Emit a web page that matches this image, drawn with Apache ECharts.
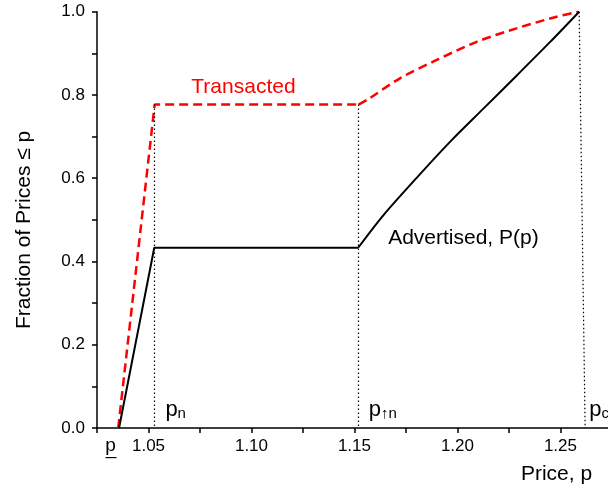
<!DOCTYPE html>
<html><head><meta charset="utf-8">
<script src="https://cdn.jsdelivr.net/npm/echarts@6/dist/echarts.min.js"></script>
<style>html,body{margin:0;padding:0;background:#fff}#c{width:608px;height:494px}</style>
</head><body><div id="c"></div>
<script>
// Advertised price distribution P(p) (black solid)
const advertisedPrice    = [1.0357, 1.0528, 1.1518, 1.1640, 1.1802, 1.1964, 1.2126, 1.2287, 1.2449, 1.2591];
const advertisedFraction = [0.000,  0.433,  0.433,  0.511,  0.601,  0.6874, 0.7671, 0.8463, 0.9268, 1.000];
// Transacted price distribution (red dashed)
const transactedPrice    = [1.0353, 1.0530, 1.1520, 1.1567, 1.1721, 1.1899, 1.2093, 1.2287, 1.2482, 1.2591];
const transactedFraction = [0.000,  0.777,  0.777,  0.790,  0.840,  0.884,  0.9275, 0.960,  0.988,  1.000];
// dotted reference lines (p_n, p_up_n, p_c)
const refTopPrice    = [1.0529, 1.1517, 1.2591];
const refTopFraction = [0.777,  0.777,  1.000];
const refBottomPrice = [1.0529, 1.1517, 1.2620];
// tick labels
const xTickValues = [1.05, 1.10, 1.15, 1.20, 1.25];
const xTickLabels = ['1.05', '1.10', '1.15', '1.20', '1.25'];
const yTickValues = [0, 0.2, 0.4, 0.6, 0.8, 1.0];
const yTickLabels = ['0.0', '0.2', '0.4', '0.6', '0.8', '1.0'];
// annotations
const noteTexts    = ['{r|Transacted}', '{b|Advertised, P(p)}', '{p|p}{s|n}', '{p|p}{s|\u2191n}', '{p|p}{s|c}', '{u|p\u0332}'];
const notePrice    = [1.0961, 1.2029, 1.0582, 1.1570, 1.2640, 1.0316];
const noteFraction = [0.819,  0.456,  0.050,  0.050,  0.050,  -0.043];
const notePosition = ['inside', 'inside', 'right', 'right', 'right', 'inside'];

const FONT = '"Liberation Sans", Arial, "DejaVu Sans", sans-serif';
const zip = (a, b) => a.map((v, i) => [v, b[i]]);
const labelFor = (vals, labs) => v => {
  const i = vals.findIndex(t => Math.abs(t - v) < 1e-6);
  return i >= 0 ? labs[i] : '';
};
const CORNER = 2; // index where the flat part ends and the curve begins

const chart = echarts.init(document.getElementById('c'), null, {renderer: 'canvas'});
chart.setOption({
  animation: false,
  backgroundColor: '#ffffff',
  textStyle: {fontFamily: FONT},
  grid: {left: 97, right: 0, top: 11.7, bottom: 66, containLabel: false},
  xAxis: {
    type: 'value', min: 1.025, max: 1.2731, interval: 0.025,
    name: 'Price, p', nameLocation: 'middle', nameGap: 36,
    nameTextStyle: {fontSize: 21, color: '#000', fontFamily: FONT, padding: [0, 0, 0, 408]},
    axisLine: {lineStyle: {color: '#000', width: 1.5}},
    axisTick: {length: 5, lineStyle: {color: '#000', width: 1.5}},
    axisLabel: {formatter: labelFor(xTickValues, xTickLabels), fontSize: 17, color: '#000', margin: 10, fontFamily: FONT, showMaxLabel: false},
    splitLine: {show: false}
  },
  yAxis: {
    type: 'value', min: 0, max: 1, interval: 0.1,
    name: 'Fraction of Prices \u2264 p', nameLocation: 'middle', nameGap: 62,
    nameTextStyle: {fontSize: 21, color: '#000', fontFamily: FONT, padding: [0, 20, 0, 0]},
    axisLine: {lineStyle: {color: '#000', width: 1.5}},
    axisTick: {length: 5, lineStyle: {color: '#000', width: 1.5}},
    axisLabel: {formatter: labelFor(yTickValues, yTickLabels), fontSize: 17, color: '#000', margin: 12, fontFamily: FONT},
    splitLine: {show: false}
  },
  series: [
    {
      type: 'line', name: 'Advertised', data: zip(advertisedPrice, advertisedFraction).slice(0, CORNER + 1),
      symbol: 'none', lineStyle: {color: '#000', width: 2}, z: 3,
      markLine: {
        silent: true, symbol: 'none', label: {show: false},
        lineStyle: {color: '#000', width: 1.2, type: [1.5, 2.5]},
        data: refTopPrice.map((p, i) => [{coord: [p, refTopFraction[i]]}, {coord: [refBottomPrice[i], 0]}])
      }
    },
    {
      type: 'line', name: 'Advertised curve', data: zip(advertisedPrice, advertisedFraction).slice(CORNER),
      symbol: 'none', smooth: 0.3, lineStyle: {color: '#000', width: 2}, z: 3
    },
    {
      type: 'line', name: 'Transacted', data: zip(transactedPrice, transactedFraction).slice(0, CORNER + 1),
      symbol: 'none', lineStyle: {color: '#ff0000', width: 2.5, type: [9, 5]}, z: 2
    },
    {
      type: 'line', name: 'Transacted curve', data: zip(transactedPrice, transactedFraction).slice(CORNER),
      symbol: 'none', smooth: 0.3, lineStyle: {color: '#ff0000', width: 2.5, type: [9, 5]}, z: 2
    },
    {
      type: 'scatter', symbolSize: 0, silent: true, z: 5, clip: false,
      itemStyle: {opacity: 1},
      data: noteTexts.map((t, i) => ({
        value: [notePrice[i], noteFraction[i]],
        label: {show: true, formatter: t, position: notePosition[i], distance: 0}
      })),
      label: {
        fontFamily: FONT,
        rich: {
          r: {color: '#ff0000', fontSize: 21, fontFamily: FONT},
          b: {color: '#000', fontSize: 21, fontFamily: FONT},
          p: {color: '#000', fontSize: 22, lineHeight: 28, verticalAlign: 'bottom', fontFamily: FONT},
          s: {color: '#000', fontSize: 15, lineHeight: 15, verticalAlign: 'bottom', fontFamily: FONT},
          u: {color: '#000', fontSize: 19, fontFamily: FONT}
        }
      }
    }
  ]
});
</script></body></html>
